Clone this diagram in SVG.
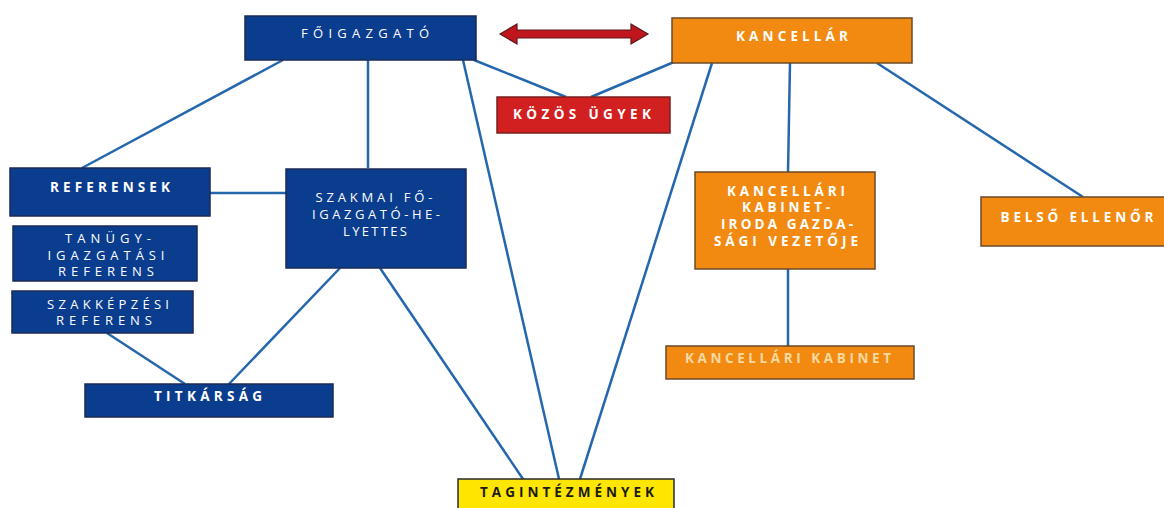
<svg xmlns="http://www.w3.org/2000/svg" width="1164" height="508" viewBox="0 0 1164 508">
<style>
.bg{fill:#ffffff}
.blue{fill:#0b3d8f;stroke:#1a2a55;stroke-width:1.5}
.orange{fill:#f28a12;stroke:#6b4a2a;stroke-width:1.5}
.red{fill:#d21f1f;stroke:#7a2020;stroke-width:1.5}
.yellow{fill:#ffe600;stroke:#2a2a2a;stroke-width:1.5}
.t{font-family:"Open Sans","Liberation Sans",sans-serif;fill:#ffffff;text-anchor:middle;font-size:13px}
.b{font-weight:bold;font-size:13.5px}
.dark{fill:#1a1a1a}
.faded{fill:#f7d9a0}
.conn line{stroke:#2467ad;stroke-width:2.5;fill:none}
</style>
<rect class="bg" x="0" y="0" width="1164" height="508"/>
<g id="connectors" class="conn">
<line x1="283" y1="60" x2="82" y2="168"/>
<line x1="368" y1="60" x2="368" y2="168"/>
<line x1="463" y1="60" x2="559" y2="479"/>
<line x1="474" y1="60" x2="566" y2="97"/>
<line x1="674" y1="62" x2="591" y2="97"/>
<line x1="712" y1="63" x2="580" y2="479"/>
<line x1="790" y1="63" x2="788" y2="172"/>
<line x1="877" y1="63" x2="1083" y2="197"/>
<line x1="210" y1="193" x2="286" y2="193"/>
<line x1="340" y1="268" x2="229" y2="384"/>
<line x1="107" y1="333" x2="185" y2="384"/>
<line x1="380" y1="268" x2="523" y2="479"/>
<line x1="788" y1="269" x2="788" y2="346"/>
</g>
<g id="arrow">
<polygon points="500,34 517,24 517,30 631,30 631,24 648,34 631,44 631,38 517,38 517,44" fill="#c0151d" stroke="#5a1a1a" stroke-width="1.2"/>
</g>
<g id="foigazgato">
<rect class="blue" x="245" y="16" width="231" height="44"/>
<text class="t" x="365" y="38" textLength="128" lengthAdjust="spacing">FŐIGAZGATÓ</text>
</g>
<g id="kancellar">
<rect class="orange" x="672" y="18" width="240" height="45"/>
<text class="t b" x="792" y="41" textLength="112" lengthAdjust="spacing">KANCELLÁR</text>
</g>
<g id="kozos-ugyek">
<rect class="red" x="497" y="97" width="173" height="36"/>
<text class="t b" x="582" y="119" textLength="138" lengthAdjust="spacing">KÖZÖS ÜGYEK</text>
</g>
<g id="referensek">
<rect class="blue" x="10" y="168" width="200" height="48"/>
<text class="t b" x="110" y="192" textLength="120" lengthAdjust="spacing">REFERENSEK</text>
</g>
<g id="szakmai">
<rect class="blue" x="286" y="169" width="180" height="99"/>
<text class="t" x="374" y="202" textLength="117" lengthAdjust="spacing">SZAKMAI FŐ-</text>
<text class="t" x="376" y="219" textLength="128" lengthAdjust="spacing">IGAZGATÓ-HE-</text>
<text class="t" x="375" y="236" textLength="64" lengthAdjust="spacing">LYETTES</text>
</g>
<g id="tanugy">
<rect class="blue" x="13" y="226" width="184" height="55"/>
<text class="t" x="108" y="243" textLength="86" lengthAdjust="spacing">TANÜGY-</text>
<text class="t" x="106" y="260" textLength="117" lengthAdjust="spacing">IGAZGATÁSI</text>
<text class="t" x="106" y="276" textLength="96" lengthAdjust="spacing">REFERENS</text>
</g>
<g id="szakkepzesi">
<rect class="blue" x="12" y="291" width="181" height="42"/>
<text class="t" x="108" y="309" textLength="122" lengthAdjust="spacing">SZAKKÉPZÉSI</text>
<text class="t" x="104" y="325" textLength="96" lengthAdjust="spacing">REFERENS</text>
</g>
<g id="titkarsag">
<rect class="blue" x="85" y="384" width="248" height="33"/>
<text class="t b" x="208" y="401" textLength="108" lengthAdjust="spacing">TITKÁRSÁG</text>
</g>
<g id="kabinet-iroda">
<rect class="orange" x="695" y="172" width="180" height="97"/>
<text class="t b" x="786" y="196" textLength="118" lengthAdjust="spacing">KANCELLÁRI</text>
<text class="t b" x="786" y="212" textLength="88" lengthAdjust="spacing">KABINET-</text>
<text class="t b" x="787" y="229" textLength="132" lengthAdjust="spacing">IRODA GAZDA-</text>
<text class="t b" x="786" y="246" textLength="144" lengthAdjust="spacing">SÁGI VEZETŐJE</text>
</g>
<g id="belso-ellenor">
<rect class="orange" x="981" y="197" width="190" height="49"/>
<text class="t b" x="1077" y="222" textLength="153" lengthAdjust="spacing">BELSŐ ELLENŐR</text>
</g>
<g id="kancellari-kabinet">
<rect class="orange" x="666" y="346" width="248" height="33"/>
<text class="t b faded" x="788" y="363" textLength="206" lengthAdjust="spacing">KANCELLÁRI KABINET</text>
</g>
<g id="tagintezmenyek">
<rect class="yellow" x="458" y="479" width="216" height="40"/>
<text class="t b dark" x="567" y="497" textLength="174" lengthAdjust="spacing">TAGINTÉZMÉNYEK</text>
</g>
</svg>
